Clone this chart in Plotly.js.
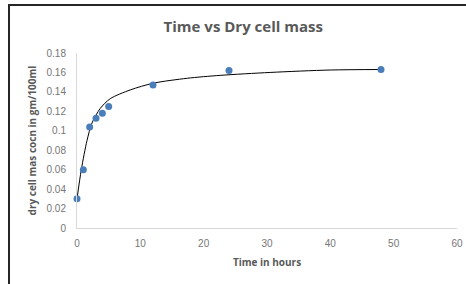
<!DOCTYPE html>
<html>
<head>
<meta charset="utf-8">
<script src="https://cdn.plot.ly/plotly-3.0.1.min.js"></script>
<style>
  html, body { margin: 0; padding: 0; background: #fff; }
  #wrap { position: relative; width: 466px; height: 284px; overflow: hidden; }
  #chart { width: 466px; height: 284px; }
  #frame { position: absolute; left: 8px; top: 4px; width: 470px; height: 300px;
           border-top: 2px solid #262626; border-left: 2px solid #262626; pointer-events: none; }
</style>
</head>
<body>
<div id="wrap">
  <div id="chart"></div>
  <div id="frame"></div>
</div>
<script>
// Measured data points
const timeHours = [0, 1, 2, 3, 4, 5, 12, 24, 48];
const dryCellMass = [0.03, 0.06, 0.104, 0.113, 0.118, 0.125, 0.147, 0.162, 0.163];

// Trend line
const trendX = [0, 0.68, 1.58, 2.37, 3.67, 5.25, 8.4, 12.1, 17.4, 22.6, 30.5, 40, 48];
const trendY = [0.03, 0.06, 0.09, 0.108, 0.123, 0.133, 0.142, 0.149, 0.154, 0.157, 0.16, 0.1625, 0.163];

const xTicks = [0, 10, 20, 30, 40, 50, 60];
const yTicks = [0, 0.02, 0.04, 0.06, 0.08, 0.1, 0.12, 0.14, 0.16, 0.18];
const yTickText = ['0', '0.02', '0.04', '0.06', '0.08', '0.1', '0.12', '0.14', '0.16', '0.18'];

const tickFont = { family: 'Liberation Sans, Arial, sans-serif', size: 10, color: '#767676' };
const titleColor = '#595959';

const traces = [
  {
    x: trendX, y: trendY, type: 'scatter', mode: 'lines',
    line: { color: '#000000', width: 1, shape: 'spline', smoothing: 0.8 },
    hoverinfo: 'skip', showlegend: false, cliponaxis: false
  },
  {
    x: timeHours, y: dryCellMass, type: 'scatter', mode: 'markers',
    marker: { color: '#4a7ebb', size: 7 },
    showlegend: false, cliponaxis: false
  }
];

const layout = {
  width: 466, height: 284,
  margin: { l: 77, r: 9, t: 53, b: 56 },
  paper_bgcolor: '#ffffff', plot_bgcolor: '#ffffff',
  title: {
    text: '<b>Time vs Dry cell mass</b>',
    font: { family: 'Open Sans, Liberation Sans, sans-serif', size: 15, color: titleColor },
    x: 0.522, xanchor: 'center', y: 1 - 27 / 284, yanchor: 'middle'
  },
  xaxis: {
    range: [0, 60], tickmode: 'array', tickvals: xTicks,
    showgrid: false, zeroline: false, showline: true, linecolor: '#d9d9d9', linewidth: 1,
    ticks: '', tickfont: tickFont, ticklabelstandoff: 6,
    title: { text: '<b>Time in hours</b>', font: { family: 'Open Sans, Liberation Sans, sans-serif', size: 10, color: titleColor }, standoff: 10 }
  },
  yaxis: {
    range: [0, 0.18], tickmode: 'array', tickvals: yTicks, ticktext: yTickText,
    showgrid: false, zeroline: false, showline: true, linecolor: '#d9d9d9', linewidth: 1,
    ticks: '', tickfont: tickFont, ticklabelstandoff: 8,
    title: { text: '<b>dry cell mas cocn in gm/100ml</b>', font: { family: 'Open Sans, Liberation Sans, sans-serif', size: 10, color: titleColor }, standoff: 8 }
  }
};

Plotly.newPlot('chart', traces, layout, { displayModeBar: false, staticPlot: true });
</script>
</body>
</html>
